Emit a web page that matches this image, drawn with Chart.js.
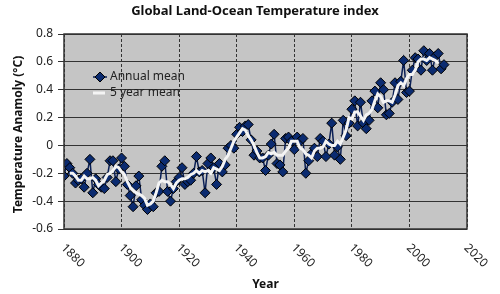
<!DOCTYPE html>
<html>
<head>
<meta charset="utf-8">
<script src="https://cdn.jsdelivr.net/npm/chart.js@4"></script>
<style>
  html, body { margin: 0; padding: 0; background: #fff; }
  #wrap { width: 500px; height: 294px; }
</style>
</head>
<body>
<div id="wrap"><canvas id="tempChart" width="500" height="294"></canvas></div>
<script>
const chartTitle = 'Global Land-Ocean Temperature index';
const yTitle = 'Temperature Anamoly (°C)';
const xTitle = 'Year';
const firstYear = 1880;
const xTicks = [1880, 1900, 1920, 1940, 1960, 1980, 2000, 2020];
const yTicks = [-0.6, -0.4, -0.2, 0, 0.2, 0.4, 0.6, 0.8];

// annual mean, 1880 - 2012
const annualMean = [
  -0.22, -0.13, -0.16, -0.20, -0.27, -0.25, -0.24, -0.30, -0.20, -0.10,
  -0.34, -0.24, -0.28, -0.30, -0.31, -0.23, -0.11, -0.11, -0.26, -0.17,
  -0.09, -0.15, -0.28, -0.36, -0.44, -0.29, -0.22, -0.39, -0.43, -0.46,
  -0.42, -0.44, -0.34, -0.33, -0.15, -0.11, -0.33, -0.40, -0.31, -0.26,
  -0.23, -0.16, -0.28, -0.26, -0.25, -0.20, -0.08, -0.19, -0.18, -0.34,
  -0.13, -0.09, -0.16, -0.28, -0.13, -0.19, -0.14, -0.02, 0.00, -0.02,
  0.08, 0.13, 0.10, 0.14, 0.15, 0.04, -0.07, -0.04, -0.09, -0.09,
  -0.18, -0.07, 0.01, 0.08, -0.13, -0.14, -0.19, 0.05, 0.06, 0.03,
  -0.03, 0.06, 0.03, 0.05, -0.20, -0.11, -0.06, -0.02, -0.08, 0.05,
  0.03, -0.08, 0.01, 0.16, -0.07, -0.01, -0.10, 0.18, 0.07, 0.16,
  0.26, 0.32, 0.14, 0.31, 0.16, 0.12, 0.18, 0.32, 0.39, 0.27,
  0.45, 0.40, 0.22, 0.23, 0.31, 0.45, 0.33, 0.46, 0.61, 0.38,
  0.39, 0.54, 0.63, 0.62, 0.54, 0.68, 0.61, 0.66, 0.54, 0.64,
  0.66, 0.55, 0.58
];

// 5 year mean, 1882 - 2010
const fiveYearStart = 1882;
const fiveYearMean = [
  -0.20, -0.20, -0.22, -0.25, -0.25, -0.22, -0.24, -0.24,
  -0.23, -0.25, -0.29, -0.27, -0.25, -0.21, -0.20, -0.18, -0.15, -0.16,
  -0.19, -0.21, -0.26, -0.30, -0.32, -0.34, -0.35, -0.36, -0.38, -0.43,
  -0.42, -0.40, -0.34, -0.27, -0.25, -0.26, -0.26, -0.28, -0.31, -0.27,
  -0.25, -0.24, -0.24, -0.23, -0.21, -0.20, -0.18, -0.20, -0.18, -0.19,
  -0.18, -0.20, -0.16, -0.17, -0.18, -0.15, -0.10, -0.07, -0.02, 0.03,
  0.06, 0.09, 0.12, 0.11, 0.07, 0.04, 0.00, -0.05, -0.09, -0.09,
  -0.08, -0.05, -0.06, -0.05, -0.07, -0.07, -0.07, -0.04, -0.02, 0.03,
  0.03, 0.03, -0.02, -0.03, -0.06, -0.07, -0.09, -0.04, -0.02, -0.02,
  -0.01, 0.03, 0.01, 0.00, 0.00, 0.03, 0.01, 0.06, 0.11, 0.20,
  0.19, 0.24, 0.24, 0.21, 0.18, 0.22, 0.23, 0.26, 0.32, 0.37,
  0.35, 0.31, 0.32, 0.32, 0.31, 0.36, 0.43, 0.45, 0.43, 0.48,
  0.51, 0.51, 0.54, 0.60, 0.62, 0.62, 0.61, 0.63, 0.62, 0.61,
  0.59
];

const annualPoints = annualMean.map((v, i) => ({ x: firstYear + i, y: v }));
const fivePoints = fiveYearMean.map((v, i) => ({ x: fiveYearStart + i, y: v }));

const labelFont = '12px "Noto Sans", "DejaVu Sans", sans-serif';
const boldFont = 'bold 12px "Noto Sans", "DejaVu Sans", sans-serif';

const decorations = {
  id: 'decorations',
  beforeDraw(chart) {
    const { ctx, chartArea: a } = chart;
    ctx.save();
    ctx.fillStyle = '#c5c5c5';
    ctx.fillRect(a.left, a.top, a.right - a.left, a.bottom - a.top);
    ctx.restore();
  },
  afterDraw(chart) {
    const { ctx, chartArea: a } = chart;
    const xs = chart.scales.x;
    ctx.save();
    // frame
    ctx.strokeStyle = '#333';
    ctx.lineWidth = 1.5;
    ctx.strokeRect(a.left, a.top, a.right - a.left, a.bottom - a.top);

    // title
    ctx.fillStyle = '#111';
    ctx.font = 'bold 13px "Noto Sans", "DejaVu Sans", sans-serif';
    ctx.textAlign = 'center';
    ctx.textBaseline = 'middle';
    ctx.fillText(chartTitle, 255, 11);

    // x tick labels, rotated
    ctx.font = labelFont;
    ctx.fillStyle = '#222';
    xTicks.forEach(t => {
      const px = xs.getPixelForValue(t);
      ctx.save();
      ctx.translate(px - 1, a.bottom + 17);
      ctx.rotate(Math.PI / 4);
      ctx.textAlign = 'left';
      ctx.textBaseline = 'middle';
      ctx.fillText(String(t), 0, 0);
      ctx.restore();
    });

    // axis titles
    ctx.font = boldFont;
    ctx.fillStyle = '#111';
    ctx.textAlign = 'center';
    ctx.textBaseline = 'middle';
    ctx.fillText(xTitle, (a.left + a.right) / 2, 285);
    ctx.save();
    ctx.translate(19, (a.top + a.bottom) / 2 + 3);
    ctx.rotate(-Math.PI / 2);
    ctx.fillText(yTitle, 0, 0);
    ctx.restore();

    // legend
    const lx = 100, ly1 = 77, ly2 = 93;
    ctx.strokeStyle = '#0a1f55';
    ctx.lineWidth = 1.5;
    ctx.beginPath();
    ctx.moveTo(lx - 7, ly1);
    ctx.lineTo(lx + 7, ly1);
    ctx.stroke();
    ctx.fillStyle = '#0b2b70';
    ctx.strokeStyle = '#000';
    ctx.lineWidth = 1;
    ctx.beginPath();
    ctx.moveTo(lx, ly1 - 5);
    ctx.lineTo(lx + 5, ly1);
    ctx.lineTo(lx, ly1 + 5);
    ctx.lineTo(lx - 5, ly1);
    ctx.closePath();
    ctx.fill();
    ctx.stroke();
    ctx.strokeStyle = '#f4f4f4';
    ctx.lineWidth = 3;
    ctx.beginPath();
    ctx.moveTo(lx - 7, ly2);
    ctx.lineTo(lx + 5, ly2);
    ctx.stroke();
    ctx.font = labelFont;
    ctx.fillStyle = '#222';
    ctx.textAlign = 'left';
    ctx.fillText('Annual mean', lx + 10, ly1);
    ctx.fillText('5 year mean', lx + 10, ly2);
    ctx.restore();
  }
};

new Chart(document.getElementById('tempChart').getContext('2d'), {
  type: 'line',
  data: {
    datasets: [
      {
        label: '5 year mean',
        data: fivePoints,
        borderColor: '#f4f4f4',
        borderWidth: 3,
        pointRadius: 0,
        tension: 0,
        order: 0
      },
      {
        label: 'Annual mean',
        data: annualPoints,
        borderColor: '#0a1f55',
        borderWidth: 1.5,
        pointStyle: 'rectRot',
        pointRadius: 5,
        pointBackgroundColor: '#0b2b70',
        pointBorderColor: '#000',
        pointBorderWidth: 1,
        tension: 0,
        order: 1
      }
    ]
  },
  options: {
    responsive: false,
    animation: false,
    layout: { padding: { left: 0, right: 33, top: 34, bottom: 65 } },
    plugins: {
      legend: { display: false },
      title: { display: false },
      tooltip: { enabled: false }
    },
    scales: {
      x: {
        type: 'linear',
        min: 1880,
        max: 2020,
        ticks: { display: false, stepSize: 20 },
        grid: { color: '#333', lineWidth: 1, drawTicks: false },
        border: { display: false, dash: [3, 2] },
        afterFit(s) { s.height = 0; }
      },
      y: {
        min: -0.6,
        max: 0.8,
        afterBuildTicks(s) { s.ticks = yTicks.map(v => ({ value: v })); },
        ticks: {
          padding: 5,
          color: '#222',
          font: { family: '"Noto Sans", "DejaVu Sans", sans-serif', size: 12 },
          callback: v => String(Math.round(v * 10) / 10)
        },
        grid: { color: '#333', lineWidth: 1, tickLength: 6 },
        border: { display: false },
        afterFit(s) { s.width = 64; }
      }
    }
  },
  plugins: [decorations]
});
</script>
</body>
</html>
